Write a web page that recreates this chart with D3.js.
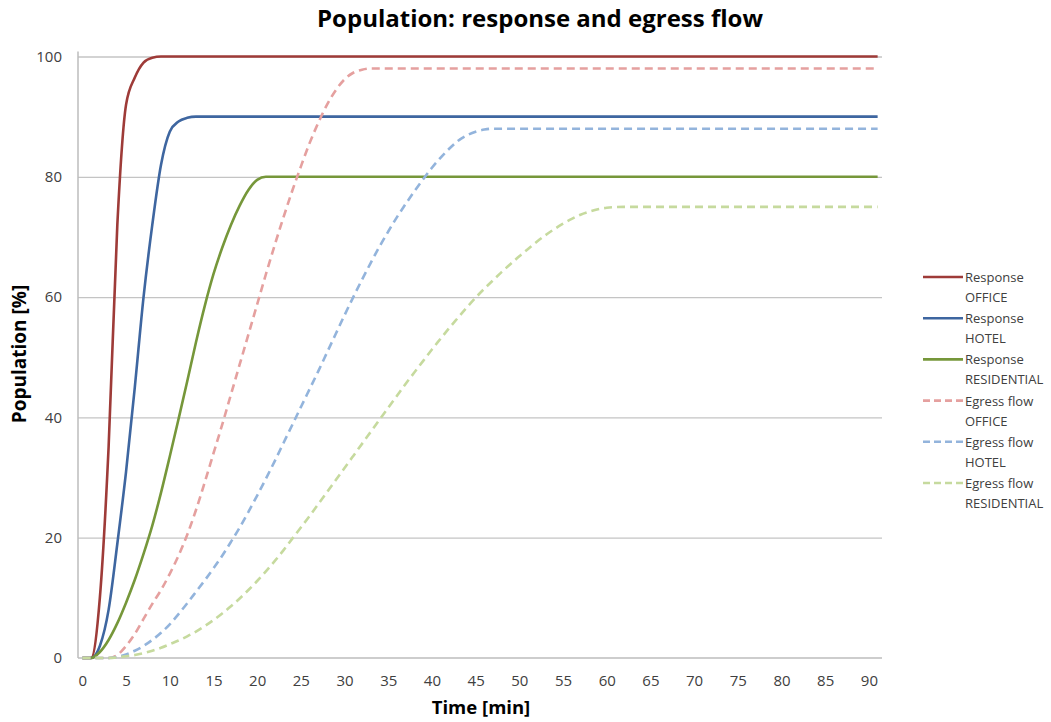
<!DOCTYPE html>
<html>
<head>
<meta charset="utf-8">
<title>Population: response and egress flow</title>
<script src="https://cdn.jsdelivr.net/npm/d3@7"></script>
<style>
  body { margin: 0; background: #fff; }
  text { font-family: "Open Sans", sans-serif; fill: #404040; }
</style>
</head>
<body>
<script>
// values are read per minute (index = minute); each curve stays flat to the end
var endMinute = 91;
var respOffice = [0, 0, 10, 35, 72, 92, 96.5, 99, 99.8, 100];
var respHotel = [0, 0, 2, 8, 19, 31, 45, 60, 72, 82, 87.5, 89.2, 89.8, 90];
var respResidential = [0, 0, 1, 3, 5.8, 9.2, 13, 17.3, 22, 27.5, 33.5, 39.7, 46, 52.5, 58.5, 63.8, 68.2, 72, 75.2,
  77.8, 79.5, 80];
var egressOffice = [0, 0, 0, 0, 0.5, 2, 4, 6.5, 9, 11.3, 14, 17, 20.5, 24.6, 29.2, 34, 38.8, 43.8, 48.8, 53.8, 58.8,
  63.8, 68.6, 73.2, 77.6, 81.7, 85.6, 89, 92, 94.4, 96.2, 97.3, 97.8, 98];
var egressHotel = [0, 0, 0, 0, 0.2, 0.6, 1.2, 2, 3, 4.2, 5.6, 7.3, 9.1, 11, 12.9, 14.9, 17, 19.3, 21.7, 24.3, 27,
  29.8, 32.7, 35.7, 38.7, 41.7, 44.7, 47.7, 50.8, 53.9, 57, 60, 62.9, 65.7, 68.4, 70.9, 73.3, 75.5, 77.6, 79.6,
  81.5, 83.2, 84.7, 86, 86.9, 87.5, 87.85, 88];
var egressResidential = [0, 0, 0, 0, 0.1, 0.3, 0.5, 0.8, 1.2, 1.7, 2.3, 2.9, 3.6, 4.4, 5.3, 6.3, 7.4, 8.6, 9.9, 11.3,
  12.8, 14.4, 16.1, 17.9, 19.8, 21.7, 23.6, 25.6, 27.6, 29.6, 31.6, 33.6, 35.6, 37.6, 39.6, 41.6, 43.6, 45.6, 47.5,
  49.4, 51.3, 53.1, 54.9, 56.6, 58.3, 59.9, 61.4, 62.8, 64.2, 65.5, 66.8, 68, 69.2, 70.3, 71.3, 72.2, 73, 73.7,
  74.2, 74.6, 74.85, 74.97, 75];

var xTicks = [0, 5, 10, 15, 20, 25, 30, 35, 40, 45, 50, 55, 60, 65, 70, 75, 80, 85, 90];
var yTicks = [0, 20, 40, 60, 80, 100];

var seriesNames = [["Response", "OFFICE"], ["Response", "HOTEL"], ["Response", "RESIDENTIAL"],
  ["Egress flow", "OFFICE"], ["Egress flow", "HOTEL"], ["Egress flow", "RESIDENTIAL"]];
var seriesValues = [respOffice, respHotel, respResidential, egressOffice, egressHotel, egressResidential];
var seriesColors = ["#9E3B38", "#3E66A0", "#76973A", "#E5A09F", "#93B4DC", "#C6DA9E"];
var seriesDashed = [false, false, false, true, true, true];

var width = 1051, height = 722;
var plot = { left: 78, right: 882, top: 56.5, bottom: 658 };

var svg = d3.select("body").append("svg").attr("width", width).attr("height", height);

// category axis: each minute sits in the middle of its slot
var xScale = d3.scaleLinear().domain([-0.5, endMinute + 0.5]).range([plot.left, plot.right]);
var yScale = d3.scaleLinear().domain([0, 100]).range([plot.bottom, plot.top]);

// gridlines
svg.append("g")
  .attr("transform", "translate(" + plot.left + ",0)")
  .call(d3.axisLeft(yScale).tickValues(yTicks.slice(1)).tickSize(-(plot.right - plot.left)).tickFormat(""))
  .call(function (g) { g.select(".domain").remove(); })
  .selectAll("line").attr("stroke", "#C4C4C4").attr("stroke-width", 1.3);

// y labels
svg.append("g")
  .attr("transform", "translate(" + (plot.left - 16) + ",0)")
  .call(d3.axisLeft(yScale).tickValues(yTicks).tickSize(0).tickPadding(0))
  .call(function (g) { g.select(".domain").remove(); })
  .selectAll("text").attr("font-size", "15px").attr("font-family", "Open Sans").attr("fill", "#404040");

// x labels
svg.append("g")
  .attr("transform", "translate(0," + (plot.bottom + 17) + ")")
  .call(d3.axisBottom(xScale).tickValues(xTicks).tickSize(0).tickPadding(0))
  .call(function (g) { g.select(".domain").remove(); })
  .selectAll("text").attr("font-size", "15px").attr("font-family", "Open Sans").attr("fill", "#404040");

// axis lines
svg.append("line").attr("x1", plot.left).attr("x2", plot.left).attr("y1", plot.top - 5).attr("y2", plot.bottom)
  .attr("stroke", "#BDBDBD").attr("stroke-width", 1.5);
svg.append("line").attr("x1", plot.left).attr("x2", plot.right).attr("y1", plot.bottom).attr("y2", plot.bottom)
  .attr("stroke", "#BDBDBD").attr("stroke-width", 1.5);

// series
var line = d3.line()
  .x(function (d) { return xScale(d[0]); })
  .y(function (d) { return yScale(d[1]); })
  .curve(d3.curveMonotoneX);

seriesValues.forEach(function (vals, i) {
  var pts = vals.map(function (v, m) { return [m, v]; });
  pts.push([endMinute, vals[vals.length - 1]]);
  svg.append("path")
    .attr("d", line(pts))
    .attr("fill", "none")
    .attr("stroke", seriesColors[i])
    .attr("stroke-width", 2.6)
    .attr("stroke-dasharray", seriesDashed[i] ? "8,5" : null);
});

// titles
svg.append("text").attr("x", 540).attr("y", 27).attr("text-anchor", "middle")
  .attr("font-size", "24px").attr("font-weight", "bold").style("fill", "#000")
  .text("Population: response and egress flow");
svg.append("text").attr("x", 481).attr("y", 714).attr("text-anchor", "middle")
  .attr("font-size", "18.5px").attr("font-weight", "bold").style("fill", "#000")
  .text("Time [min]");
svg.append("text").attr("transform", "translate(26,354) rotate(-90)").attr("text-anchor", "middle")
  .attr("font-size", "19px").attr("font-weight", "bold").style("fill", "#000")
  .text("Population [%]");

// legend
var legend = svg.append("g").attr("transform", "translate(923,277)");
seriesNames.forEach(function (name, i) {
  var g = legend.append("g").attr("transform", "translate(0," + (i * 41.2) + ")");
  g.append("line").attr("x1", 0).attr("x2", 40).attr("y1", 0).attr("y2", 0)
    .attr("stroke", seriesColors[i]).attr("stroke-width", 2.6)
    .attr("stroke-dasharray", seriesDashed[i] ? "7,4" : null);
  g.append("text").attr("x", 42).attr("y", 5).attr("font-size", "13px").text(name[0]);
  g.append("text").attr("x", 42).attr("y", 25).attr("font-size", "13px").text(name[1]);
});
</script>
</body>
</html>
